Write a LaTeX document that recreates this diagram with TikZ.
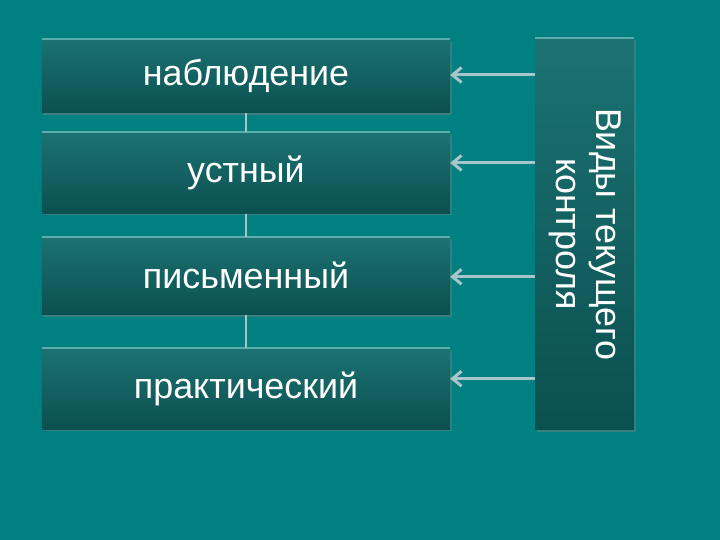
\documentclass[tikz,border=0pt]{standalone}
\usepackage{fontspec}
\setmainfont{Liberation Sans}
\usetikzlibrary{positioning,shadows,arrows.meta}
\definecolor{slide}{RGB}{0,128,128}
\definecolor{boxtop}{RGB}{28,114,114}
\definecolor{boxbottom}{RGB}{11,80,80}
\definecolor{rim}{RGB}{92,174,174}
\definecolor{pointer}{RGB}{168,196,204}
\tikzset{
    kind/.style = {
        top color = boxtop,
        bottom color = boxbottom,
        text = white,
        minimum width = 408bp,
        inner sep = 0pt,
        font = \fontsize{36}{40}\selectfont,
        drop shadow = {shadow xshift=1.5bp, shadow yshift=-2bp, opacity=0.45},
        },
    control/.style = {
        kind,
        minimum width = 99bp,
        minimum height = 392bp,
        },
    rim line/.style = {
        draw = rim,
        line width = 2bp,
        },
    link/.style = {
        draw = pointer,
        line width = 2bp,
        },
    feed/.style = {
        draw = pointer,
        line width = 3bp,
        -{Straight Barb[length=9bp, width=15bp]},
        },
}
\begin{document}
\begin{tikzpicture}[x=1bp, y=1bp]
    \fill[slide] (0,0) rectangle (720,540);
    \useasboundingbox (0,0) rectangle (720,540);

    \node[kind, minimum height=74bp] (obs) at (246,464) {наблюдение};
    \node[kind, minimum height=81bp, below=19bp of obs] (oral) {устный};
    \node[kind, minimum height=78bp, below=23bp of oral] (written) {письменный};
    \node[kind, minimum height=81bp, below=33bp of written] (practical) {практический};
    \node[control] (ctrl) at (584.5,306) {\rotatebox{-90}{\begin{tabular}{@{}c@{}}Виды текущего\\контроля\end{tabular}}};

    \path (obs.north west) edge[rim line] (obs.north east);
    \path (oral.north west) edge[rim line] (oral.north east);
    \path (written.north west) edge[rim line] (written.north east);
    \path (practical.north west) edge[rim line] (practical.north east);
    \path (ctrl.north west) edge[rim line] (ctrl.north east);

    \path (obs.south) edge[link] (oral.north);
    \path (oral.south) edge[link] (written.north);
    \path (written.south) edge[link] (practical.north);

    \coordinate (to obs) at ([yshift=1bp]obs.east);
    \coordinate (to oral) at ([yshift=10bp]oral.east);
    \coordinate (to written) at ([yshift=-1bp]written.east);
    \coordinate (to practical) at ([yshift=10bp]practical.east);
    \path (ctrl.west |- to obs) edge[feed] (to obs);
    \path (ctrl.west |- to oral) edge[feed] (to oral);
    \path (ctrl.west |- to written) edge[feed] (to written);
    \path (ctrl.west |- to practical) edge[feed] (to practical);
\end{tikzpicture}
\end{document}
